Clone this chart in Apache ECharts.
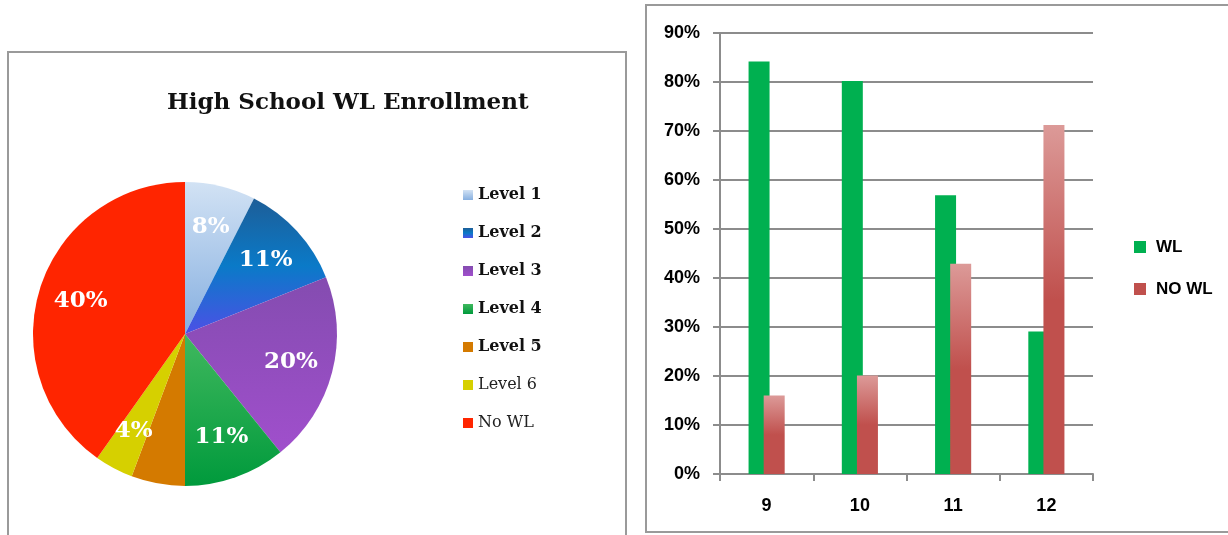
<!DOCTYPE html>
<html><head><meta charset="utf-8">
<script src="https://cdn.jsdelivr.net/npm/echarts@6/dist/echarts.min.js"></script>
<style>html,body{margin:0;padding:0;background:#fff}#c{width:1228px;height:535px}</style>
</head><body><div id="c"></div>
<script>
// ---- data ----
const pieTitle = 'High School WL Enrollment';
const pieCategories = ['Level 1', 'Level 2', 'Level 3', 'Level 4', 'Level 5', 'Level 6', 'No WL'];
const pieValues = [7.5, 11.4, 20.3, 10.8, 5.7, 4.1, 40.2];
const pieLabelShown = [true, true, true, true, false, true, true];
const grades = ['9', '10', '11', '12'];
const wlValues = [84.2, 80.2, 56.9, 29.1];
const noWlValues = [16.0, 20.1, 42.9, 71.2];
const barSeriesNames = ['WL', 'NO WL'];
const yMin = 0, yMax = 90, yStep = 10;

// ---- styles ----
const G = echarts.graphic.LinearGradient;
const pieColors = [
  new G(0, 0, 0, 1, [{offset: 0, color: '#d2e2f4'}, {offset: 1, color: '#86afe0'}]),
  new G(0, 0, 0, 1, [{offset: 0, color: '#1d5e98'}, {offset: 0.5, color: '#0a7ac8'}, {offset: 1, color: '#4c50e6'}]),
  new G(0, 0, 0, 1, [{offset: 0, color: '#844cb0'}, {offset: 1, color: '#a04fcc'}]),
  new G(0, 0, 0, 1, [{offset: 0, color: '#40b85e'}, {offset: 1, color: '#009a3c'}]),
  '#d47a00',
  '#d6d000',
  '#ff2500'
];
const barColors = ['#00b050', '#c0504d'];
const boldLegend = [true, true, true, true, true, false, false];
const serif = 'DejaVu Serif';
const sans = 'Liberation Sans';

const chart = echarts.init(document.getElementById('c'), null, {renderer: 'canvas'});
const option = {
  backgroundColor: '#fff',
  animation: false,
  title: {
    text: pieTitle, left: 167, top: 92, padding: 0,
    textStyle: {fontFamily: serif, fontWeight: 'bold', fontSize: 23, color: '#111'}
  },
  graphic: [
    {type: 'rect', shape: {x: 8, y: 52, width: 618, height: 520}, style: {fill: 'none', stroke: '#9a9a9a', lineWidth: 2}, silent: true},
    {type: 'rect', shape: {x: 646, y: 5, width: 620, height: 527}, style: {fill: 'none', stroke: '#9a9a9a', lineWidth: 2}, silent: true}
  ],
  legend: [
    {
      data: pieCategories, orient: 'vertical', left: 463, top: 186, padding: 0,
      itemWidth: 10, itemHeight: 10, itemGap: 20, icon: 'rect',
      formatter: function (n) { return boldLegend[pieCategories.indexOf(n)] ? '{b|' + n + '}' : '{n|' + n + '}'; },
      textStyle: {
        fontFamily: serif, fontSize: 16, color: '#111', lineHeight: 18,
        rich: {
          b: {fontFamily: serif, fontSize: 16, fontWeight: 'bold', color: '#111', lineHeight: 18},
          n: {fontFamily: serif, fontSize: 16, color: '#222', lineHeight: 18}
        }
      }
    },
    {
      data: barSeriesNames.map((n, i) => ({name: n, itemStyle: {color: barColors[i]}})),
      orient: 'vertical', left: 1134, top: 237, padding: 0,
      itemWidth: 12, itemHeight: 12, itemGap: 22, icon: 'rect',
      textStyle: {fontFamily: sans, fontWeight: 'bold', fontSize: 17, color: '#000', lineHeight: 20, padding: [0, 0, 0, 5]}
    }
  ],
  grid: {left: 720, right: 135, top: 33, bottom: 61, containLabel: false},
  xAxis: {
    type: 'category', data: grades, boundaryGap: true,
    axisLine: {lineStyle: {color: '#8c8c8c', width: 2}},
    axisTick: {show: true, length: 7, alignWithLabel: false, lineStyle: {color: '#8c8c8c', width: 2}},
    axisLabel: {margin: 23, fontFamily: sans, fontWeight: 'bold', fontSize: 18, color: '#000'},
    splitLine: {show: false}
  },
  yAxis: {
    type: 'value', min: yMin, max: yMax, interval: yStep,
    axisLine: {show: true, lineStyle: {color: '#8c8c8c', width: 2}},
    axisTick: {show: true, length: 7, lineStyle: {color: '#8c8c8c', width: 2}},
    axisLabel: {formatter: '{value}%', margin: 20, fontFamily: sans, fontWeight: 'bold', fontSize: 18, color: '#000'},
    splitLine: {show: true, lineStyle: {color: '#8c8c8c', width: 2}}
  },
  series: [
    {
      type: 'pie', center: [185, 334], radius: 152, startAngle: 90, clockwise: true,
      avoidLabelOverlap: false, label: {show: false}, labelLine: {show: false},
      itemStyle: {borderWidth: 0},
      data: pieCategories.map((n, i) => ({name: n, value: pieValues[i], itemStyle: {color: pieColors[i]}})),
      emphasis: {disabled: true}
    },
    {
      type: 'pie', center: [185, 334], radius: [61, 152], startAngle: 90, clockwise: true,
      silent: true, avoidLabelOverlap: false, labelLine: {show: false},
      itemStyle: {color: 'rgba(0,0,0,0)', borderWidth: 0},
      label: {
        position: 'inside', fontFamily: serif, fontWeight: 'bold', fontSize: 23, color: '#fff',
        formatter: p => Math.round(p.percent) + '%'
      },
      data: pieCategories.map((n, i) => ({name: n, value: pieValues[i], label: {show: pieLabelShown[i]}})),
      emphasis: {disabled: true}
    },
    {
      type: 'bar', name: barSeriesNames[0], data: wlValues, barWidth: 21, barGap: '-28%',
      itemStyle: {color: barColors[0]}
    },
    {
      type: 'bar', name: barSeriesNames[1], data: noWlValues, barWidth: 21, barGap: '-28%',
      itemStyle: {color: new G(0, 0, 0, 1, [{offset: 0, color: '#dc9a98'}, {offset: 0.5, color: barColors[1]}, {offset: 1, color: barColors[1]}])}
    }
  ]
};
chart.setOption(option);
</script>
</body></html>
